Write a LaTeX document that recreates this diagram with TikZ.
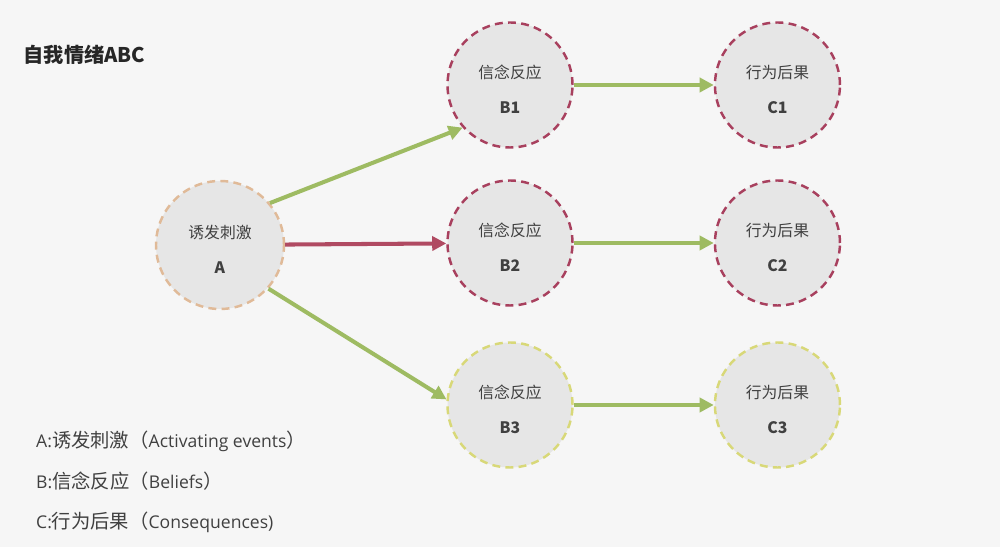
\documentclass[tikz,border=0pt]{standalone}
\usepackage{fontspec}
\setmainfont{Noto Sans CJK SC}
\newfontfamily\latinfont{Open Sans}
\usetikzlibrary{arrows.meta,positioning}
\definecolor{bgcol}{HTML}{F6F6F6}
\definecolor{discfill}{HTML}{E6E6E6}
\definecolor{peach}{HTML}{E0BA98}
\definecolor{wine}{HTML}{A8405E}
\definecolor{straw}{HTML}{D8D878}
\definecolor{leaf}{HTML}{9EBB62}
\definecolor{berry}{HTML}{B04A62}
\definecolor{ink}{HTML}{404040}
\tikzset{
  disc/.style={circle, draw, fill=discfill, line width=1.4pt, dash pattern=on 4.5pt off 3pt, minimum size=2.5cm, align=center, font=\fontsize{9pt}{20pt}\selectfont, text=ink, text height=33pt},
  trigger/.style={disc, draw=peach, minimum size=2.56cm},
  belief/.style={disc, draw=wine},
  weak/.style={disc, draw=straw},
  flow/.style={line width=2.3pt, draw=leaf, -{Triangle[length=8pt,width=8pt]}},
  hot/.style={flow, draw=berry},
  note/.style={anchor=west, text=ink, font=\fontsize{11pt}{13pt}\selectfont}
}

\begin{document}
\begin{tikzpicture}
  \useasboundingbox[fill=bgcol] (0,0) rectangle (20,10.94);
  \node[anchor=west, font=\fontsize{11.5pt}{13pt}\selectfont\bfseries, text=black!85] (title) at (0.35,9.84) {自我情绪ABC};

  \node[trigger] (A) at (4.4,6.04) {诱发刺激\\\textbf{A}};

  \node[belief] (B1) at (10.2,9.24) {信念反应\\\textbf{B1}};
  \node[belief] (B2) at (10.2,6.08) {信念反应\\\textbf{B2}};
  \node[weak]   (B3) at (10.2,2.84) {信念反应\\\textbf{B3}};

  \node[belief, right=2.8cm of B1] (C1) {行为后果\\\textbf{C1}};
  \node[belief, right=2.8cm of B2] (C2) {行为后果\\\textbf{C2}};
  \node[weak,   right=2.8cm of B3] (C3) {行为后果\\\textbf{C3}};

  \draw[flow] (A.40) -- (B1.222);
  \draw[hot]  (A) -- (B2);
  \draw[flow] (A.-42) -- (B3.175);
  \draw[flow] (B1) -- (C1);
  \draw[flow] (B2) -- (C2);
  \draw[flow] (B3) -- (C3);

  % legend
  \node[note] (la) at (0.6,2.12) {{\latinfont\fontsize{10pt}{13pt}\selectfont A:}诱发刺激（{\latinfont\fontsize{10pt}{13pt}\selectfont Activating events}）};
  \node[note] (lb) at (0.6,1.32) {{\latinfont\fontsize{10pt}{13pt}\selectfont B:}信念反应（{\latinfont\fontsize{10pt}{13pt}\selectfont Beliefs}）};
  \node[note] (lc) at (0.6,0.50) {{\latinfont\fontsize{10pt}{13pt}\selectfont C:}行为后果（{\latinfont\fontsize{10pt}{13pt}\selectfont Consequences)}};
\end{tikzpicture}
\end{document}
